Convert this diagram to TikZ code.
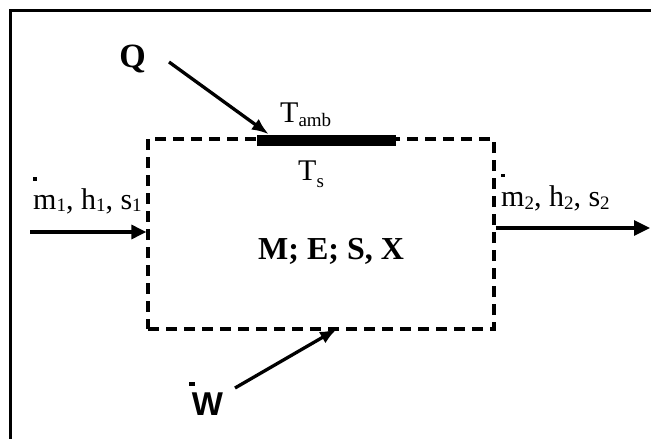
\documentclass[tikz,border=0pt]{standalone}
\usepackage{fontspec}
\setmainfont{Liberation Serif}
\setsansfont{Liberation Sans}
\usetikzlibrary{arrows.meta,calc}
\newcommand{\subx}[2][3]{\raisebox{-#1pt}{\fontsize{19}{19}\selectfont #2}}
\tikzset{
  lbl/.style={inner sep=0pt, anchor=base west, font=\fontsize{30}{36}\selectfont},
  big/.style={inner sep=0pt, anchor=base, font=\fontsize{34}{40}\selectfont\bfseries},
  flow/.style={line width=3.2pt, -{Triangle[length=15pt,width=14pt]}},
  heat/.style={line width=3.3pt, -{Latex[length=17pt,width=13pt]}},
  cv/.style={draw, line width=3.3pt, dash pattern=on 11pt off 7pt, minimum width=346pt, minimum height=190pt, inner sep=0pt},
  dotmark/.style={fill=black, draw=none},
}
\begin{document}
\begin{tikzpicture}[x=1pt,y=-1pt]
\useasboundingbox (0,0) rectangle (651,439);
% outer frame
\draw[line width=3pt] (10,439) -- (10,10) -- (651,10);
% control volume
\node[cv] (box) at (321,234) {};
\node[inner sep=0pt, anchor=base west, font=\fontsize{32}{38}\selectfont\bfseries] (mes) at (258,259) {M; E; S, X};
% heated surface
\node[fill=black, minimum width=139pt, minimum height=11pt, inner sep=0pt] (bar) at (326.5,140) {};
\node[lbl] (tamb) at (280,122) {T\subx[4.5]{amb}};
\node[lbl] (ts) at (298,180) {T\subx[7]{s}};
% heat
\node[big] (q) at (132.5,67) {Q};
\coordinate (qs) at (169,62);
\coordinate (qt) at ($(bar.north west)+(12,0)$);
\draw[heat] (qs) -- (qt);
% work
\node[inner sep=0pt, anchor=base, font=\fontsize{33}{38}\selectfont\sffamily\bfseries] (w) at (207.5,415) {W};
\fill[dotmark] (189,382) rectangle (195,386);
\coordinate (ws) at (235,388);
\coordinate (wt) at (337,329);
\draw[heat] (ws) -- (wt);
% inlet
\node[lbl] (m1) at (33,209) {m\subx[2]{1}, h\subx[2]{1}, s\subx[2]{1}};
\fill[dotmark] (33,177) rectangle (37,181);
\coordinate (in0) at (30,232);
\draw[flow] (in0) -- (in0 -| box.west);
% outlet
\node[lbl] (m2) at (501,206) {m\subx{2}, h\subx{2}, s\subx{2}};
\fill[dotmark] (501,174) rectangle (505,177);
\coordinate (out1) at (650,228);
\draw[flow, -{Triangle[length=16pt,width=15pt]}] (box.east |- out1) -- (out1);
\end{tikzpicture}
\end{document}
